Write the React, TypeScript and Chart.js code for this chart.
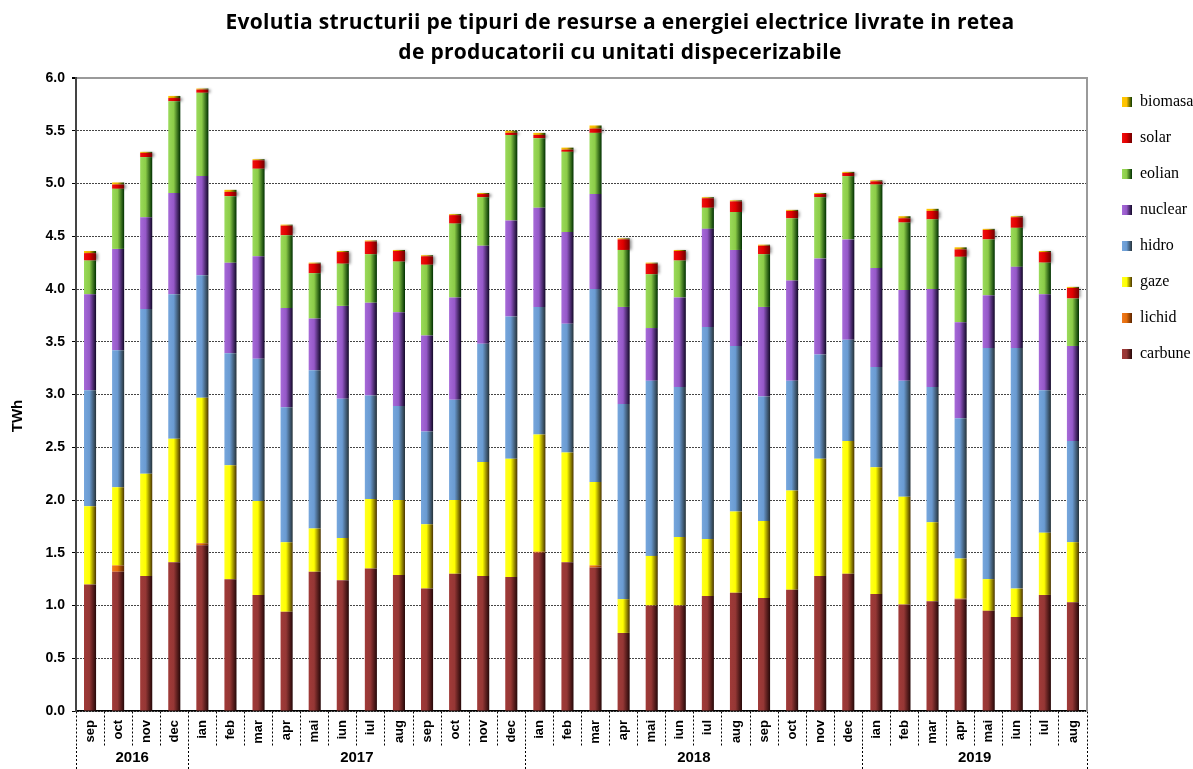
import React, { useEffect, useRef } from 'react';
import { Chart, registerables } from 'chart.js';

Chart.register(...registerables);

// ---------- DATA ----------
const years = ['2016', '2017', '2018', '2019'];
const yearCounts = [4, 12, 12, 8];
const months = [
  'sep', 'oct', 'nov', 'dec',
  'ian', 'feb', 'mar', 'apr', 'mai', 'iun', 'iul', 'aug', 'sep', 'oct', 'nov', 'dec',
  'ian', 'feb', 'mar', 'apr', 'mai', 'iun', 'iul', 'aug', 'sep', 'oct', 'nov', 'dec',
  'ian', 'feb', 'mar', 'apr', 'mai', 'iun', 'iul', 'aug',
];
const yTicks = [0, 0.5, 1, 1.5, 2, 2.5, 3, 3.5, 4, 4.5, 5, 5.5, 6];

const carbune = [1.20, 1.32, 1.28, 1.41, 1.57, 1.25, 1.10, 0.94, 1.32, 1.24, 1.35, 1.29, 1.16, 1.30, 1.28, 1.27, 1.50, 1.41, 1.36, 0.74, 1.00, 1.00, 1.09, 1.12, 1.07, 1.15, 1.28, 1.30, 1.11, 1.01, 1.04, 1.06, 0.95, 0.89, 1.10, 1.03];
const lichid = [0, 0.06, 0, 0, 0.02, 0, 0, 0, 0, 0, 0, 0, 0, 0, 0, 0, 0.01, 0, 0.02, 0, 0, 0, 0, 0, 0, 0, 0, 0, 0, 0, 0, 0.005, 0, 0, 0, 0];
const gaze = [0.74, 0.74, 0.97, 1.17, 1.38, 1.08, 0.89, 0.66, 0.41, 0.40, 0.66, 0.71, 0.61, 0.70, 1.08, 1.12, 1.11, 1.04, 0.79, 0.32, 0.47, 0.65, 0.54, 0.77, 0.73, 0.94, 1.11, 1.26, 1.20, 1.02, 0.75, 0.38, 0.30, 0.27, 0.59, 0.57];
const hidro = [1.10, 1.30, 1.56, 1.37, 1.16, 1.06, 1.35, 1.28, 1.50, 1.32, 0.98, 0.89, 0.88, 0.95, 1.12, 1.35, 1.21, 1.22, 1.83, 1.85, 1.66, 1.42, 2.01, 1.57, 1.18, 1.04, 0.99, 0.96, 0.95, 1.10, 1.28, 1.33, 2.19, 2.28, 1.35, 0.96];
const nuclear = [0.91, 0.96, 0.87, 0.96, 0.94, 0.86, 0.97, 0.94, 0.49, 0.88, 0.88, 0.89, 0.91, 0.97, 0.93, 0.91, 0.94, 0.87, 0.90, 0.92, 0.50, 0.85, 0.93, 0.91, 0.85, 0.95, 0.91, 0.95, 0.94, 0.86, 0.93, 0.91, 0.50, 0.77, 0.91, 0.90];
const eolian = [0.32, 0.57, 0.57, 0.87, 0.79, 0.63, 0.83, 0.69, 0.43, 0.40, 0.46, 0.48, 0.67, 0.70, 0.46, 0.81, 0.66, 0.76, 0.58, 0.54, 0.51, 0.35, 0.20, 0.36, 0.50, 0.59, 0.58, 0.60, 0.79, 0.64, 0.66, 0.62, 0.53, 0.37, 0.30, 0.45];
const solar = [0.07, 0.04, 0.04, 0.03, 0.03, 0.04, 0.08, 0.09, 0.09, 0.11, 0.12, 0.10, 0.08, 0.08, 0.03, 0.02, 0.03, 0.02, 0.04, 0.10, 0.10, 0.09, 0.09, 0.10, 0.08, 0.07, 0.03, 0.03, 0.03, 0.04, 0.08, 0.07, 0.09, 0.10, 0.10, 0.10];
const biomasa = [0.02, 0.02, 0.01, 0.02, 0.01, 0.02, 0.01, 0.01, 0.01, 0.01, 0.01, 0.01, 0.01, 0.01, 0.01, 0.02, 0.02, 0.02, 0.03, 0.01, 0.01, 0.01, 0.01, 0.01, 0.01, 0.01, 0.01, 0.01, 0.01, 0.02, 0.02, 0.02, 0.01, 0.01, 0.01, 0.01];

const titleLines = [
  'Evolutia structurii pe tipuri de resurse a energiei electrice livrate in retea',
  'de producatorii cu unitati dispecerizabile',
];
const yTitle = 'TWh';

// ---------- STYLE ----------
type Pal = { light: string; base: string; dark: string };
const palettes: Record<string, Pal> = {
  carbune: { light: '#a03a38', base: '#953735', dark: '#260808' },
  lichid: { light: '#f07a20', base: '#e46c0a', dark: '#5a2400' },
  gaze: { light: '#ffff20', base: '#ffff00', dark: '#4a3400' },
  hidro: { light: '#76a6dc', base: '#6a9bd2', dark: '#26333a' },
  nuclear: { light: '#a66ad8', base: '#9558c8', dark: '#120828' },
  eolian: { light: '#9ada5a', base: '#8ccc48', dark: '#003000' },
  solar: { light: '#f01010', base: '#e00000', dark: '#700000' },
  biomasa: { light: '#ffc800', base: '#ffc000', dark: '#0a3a00' },
};

const BAR_W = 12;

function makeGrad(ctx: CanvasRenderingContext2D, x0: number, x1: number, p: Pal) {
  const g = ctx.createLinearGradient(x0, 0, x1, 0);
  g.addColorStop(0, p.light);
  g.addColorStop(0.45, p.base);
  g.addColorStop(1, p.dark);
  return g;
}

const decorPlugin = {
  id: 'decor',
  beforeDraw(chart: any) {
    const lg = chart.legend;
    if (lg && lg.legendItems && lg.legendHitBoxes) {
      lg.legendItems.forEach((item: any, i: number) => {
        const hb = lg.legendHitBoxes[i];
        const ds = chart.data.datasets[item.datasetIndex];
        const p = palettes[ds.label];
        if (hb && p) item.fillStyle = makeGrad(chart.ctx, hb.left, hb.left + 10, p);
      });
    }
  },
  beforeDatasetDraw(chart: any, args: any) {
    const ds = chart.data.datasets[args.index];
    const ctx = chart.ctx;
    ctx.save();
    if (ds.label === 'solar') {
      ctx.shadowColor = 'rgba(0,0,0,0.45)';
      ctx.shadowBlur = 3;
      ctx.shadowOffsetX = 2;
      ctx.shadowOffsetY = 0;
    }
  },
  afterDatasetDraw(chart: any) {
    chart.ctx.restore();
  },
  afterDraw(chart: any) {
    const ctx: any = chart.ctx;
    const xs = chart.scales.x;
    const area = chart.chartArea;
    ctx.save();
    // Title
    ctx.fillStyle = '#000';
    ctx.font = 'bold 21px "Open Sans"';
    ctx.letterSpacing = '0.3px';
    ctx.textAlign = 'center';
    ctx.textBaseline = 'middle';
    ctx.fillText(titleLines[0], 620, 23);
    ctx.fillText(titleLines[1], 620, 53);
    ctx.letterSpacing = '0px';

    // Y axis title
    ctx.save();
    ctx.translate(18, 416);
    ctx.rotate(-Math.PI / 2);
    ctx.font = 'bold 15px "Liberation Sans", Arial';
    ctx.fillText(yTitle, 0, 0);
    ctx.restore();

    // Year row
    const step = xs.getPixelForValue(1) - xs.getPixelForValue(0);
    const half = step / 2;
    const monthRowBottom = area.bottom + 36;
    const bottom = chart.height;
    ctx.font = 'bold 15px "Liberation Sans", Arial';
    ctx.textBaseline = 'middle';
    ctx.strokeStyle = '#000';
    ctx.lineWidth = 1;
    ctx.setLineDash([2, 2]);
    let start = 0;
    yearCounts.forEach((n, gi) => {
      const left = xs.getPixelForValue(start) - half;
      const right = xs.getPixelForValue(start + n - 1) + half;
      ctx.fillText(years[gi], (left + right) / 2, 758);
      ctx.beginPath();
      ctx.moveTo(Math.round(left) + 0.5, monthRowBottom);
      ctx.lineTo(Math.round(left) + 0.5, bottom);
      ctx.stroke();
      if (gi === yearCounts.length - 1) {
        ctx.beginPath();
        ctx.moveTo(Math.round(right) + 0.5, monthRowBottom);
        ctx.lineTo(Math.round(right) + 0.5, bottom);
        ctx.stroke();
      }
      start += n;
    });
    ctx.restore();
  },
};

export default function App() {
  const ref = useRef<HTMLCanvasElement>(null);

  useEffect(() => {
    if (!ref.current) return;
    const mk = (label: string, data: number[]) => ({
      label,
      data,
      xAxisID: 'x',
      yAxisID: 'y',
      borderWidth: 0,
      backgroundColor: (c: any) => {
        const p = palettes[label];
        const chart = c.chart;
        const xs = chart.scales && chart.scales.x;
        if (!xs || c.type !== 'data' || !chart.chartArea) return p.base;
        const x = xs.getPixelForValue(c.dataIndex);
        return makeGrad(chart.ctx, x - BAR_W / 2, x + BAR_W / 2, p);
      },
      categoryPercentage: 1,
      barPercentage: 0.43,
    });

    const isTop = (c: any) => c.tick && c.tick.value === 6;

    const chart = new Chart(ref.current, {
      type: 'bar',
      data: {
        labels: months,
        datasets: [
          mk('carbune', carbune),
          mk('lichid', lichid),
          mk('gaze', gaze),
          mk('hidro', hidro),
          mk('nuclear', nuclear),
          mk('eolian', eolian),
          mk('solar', solar),
          mk('biomasa', biomasa),
        ],
      },
      options: {
        responsive: false,
        animation: false,
        layout: { padding: { top: 74, left: 0, right: 0, bottom: 0 } },
        plugins: {
          title: { display: false },
          tooltip: { enabled: false },
          legend: {
            position: 'right',
            align: 'start',
            reverse: true,
            maxWidth: 91,
            labels: {
              boxWidth: 10,
              boxHeight: 10,
              padding: 20,
              color: '#000',
              font: { family: '"Liberation Serif", serif', size: 16 },
            },
          },
        },
        scales: {
          x: {
            stacked: true,
            offset: true,
            grid: {
              display: true,
              drawOnChartArea: false,
              drawTicks: true,
              tickLength: 36,
              offset: true,
              tickColor: '#000',
              tickBorderDash: [2, 2],
            },
            border: { display: true, color: '#000', width: 1.5 },
            ticks: {
              autoSkip: false,
              minRotation: 90,
              maxRotation: 90,
              padding: -27,
              color: '#000',
              font: { family: '"Liberation Sans", Arial', weight: 'bold', size: 13 },
            },
            afterFit: (s: any) => { s.height = 58; },
          },
          xTop: {
            type: 'category',
            position: 'top',
            display: true,
            grid: { display: false, drawTicks: false },
            ticks: { display: false },
            border: { display: false },
            afterFit: (s: any) => { s.height = 4; },
          },
          y: {
            stacked: true,
            min: 0,
            max: 6,
            afterBuildTicks: (s: any) => { s.ticks = yTicks.map((v) => ({ value: v })); },
            ticks: {
              color: '#000',
              padding: 7,
              font: { family: '"Liberation Sans", Arial', weight: 'bold', size: 14 },
              callback: (v: any) => Number(v).toFixed(1),
            },
            grid: {
              color: (c: any) => (isTop(c) ? '#9a9a9a' : '#444'),
              lineWidth: (c: any) => (isTop(c) ? 2 : 1),
              tickLength: 4,
              tickColor: '#000',
              tickBorderDash: [],
            },
            border: {
              display: true,
              color: '#444',
              width: 2,
              dash: (c: any) => (isTop(c) ? [] : [2, 1]),
            },
            title: { display: false },
            afterFit: (s: any) => { s.width = 76; },
          },
          y2: {
            position: 'right',
            display: true,
            min: 0,
            max: 6,
            grid: { display: false, drawTicks: false },
            ticks: { display: false },
            border: { display: true, color: '#9a9a9a', width: 2 },
            afterFit: (s: any) => { s.width = 15; },
          },
        },
      },
      plugins: [decorPlugin],
    } as any);

    return () => chart.destroy();
  }, []);

  return (
    <div style={{ position: 'absolute', left: 0, top: 0, width: 1193, height: 769, background: '#fff' }}>
      <canvas ref={ref} width={1193} height={769} style={{ display: 'block' }} />
    </div>
  );
}
